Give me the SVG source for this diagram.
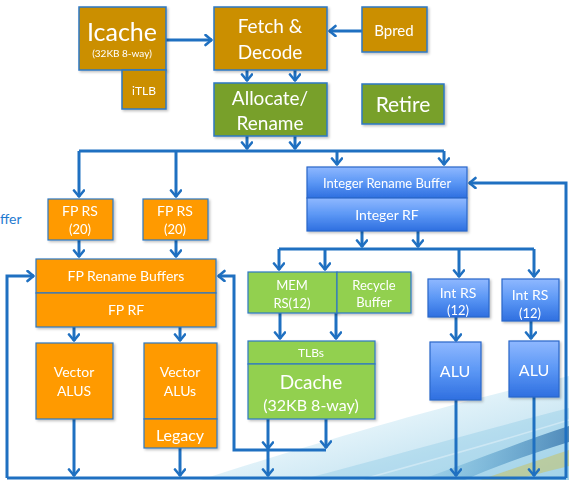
<svg xmlns="http://www.w3.org/2000/svg" width="569" height="480" viewBox="0 0 569 480">
  <defs>
    <marker id="arr" markerUnits="userSpaceOnUse" markerWidth="14" markerHeight="14" refX="8" refY="6" orient="auto">
      <path d="M1.5,1 L7.5,6 L1.5,11" fill="none" stroke="#1f70c1" stroke-width="2.6" stroke-linecap="round" stroke-linejoin="round"/>
    </marker>
    <linearGradient id="blueBox" x1="0" y1="0" x2="0" y2="1">
      <stop offset="0" stop-color="#8fb8ff"/>
      <stop offset="0.5" stop-color="#5b97f5"/>
      <stop offset="1" stop-color="#2f6fe0"/>
    </linearGradient>
    <linearGradient id="haze" x1="0" y1="0" x2="1" y2="1">
      <stop offset="0" stop-color="#e6f4fb" stop-opacity="0"/>
      <stop offset="0.5" stop-color="#bfe3f2"/>
      <stop offset="1" stop-color="#5fb1d8"/>
    </linearGradient>
    <linearGradient id="band" x1="0" y1="0" x2="1" y2="0">
      <stop offset="0" stop-color="#3d9fd0" stop-opacity="0.2"/>
      <stop offset="1" stop-color="#1d5f9e"/>
    </linearGradient>
    <filter id="sh" x="-10%" y="-10%" width="130%" height="130%">
      <feDropShadow dx="1.5" dy="1.5" stdDeviation="1" flood-color="#000" flood-opacity="0.25"/>
    </filter>
  </defs>
  <style>
    text { font-family: Lato, "Open Sans", "Liberation Sans", sans-serif; fill: #ffffff; text-anchor: middle; }
    .gold { fill: #cb8f04; stroke: #2d78c4; stroke-width: 1.5; }
    .olive { fill: #78a02a; stroke: #2d78c4; stroke-width: 1.5; }
    .orange { fill: #ff9a00; stroke: #2d78c4; stroke-width: 1.2; }
    .lgreen { fill: #92d050; stroke: #2d78c4; stroke-width: 1.2; }
    .blue { fill: url(#blueBox); stroke: #2a66c9; stroke-width: 1.2; }
    .box { filter: url(#sh); }
    .wire { fill: none; stroke: #1f70c1; stroke-width: 3; }
    .arrow { marker-end: url(#arr); }
  </style>

  <rect width="569" height="480" fill="#ffffff"/>

  <!-- decorative swoosh in the lower right corner -->
  <g id="backdrop">
    <path d="M200,480 C300,448 430,408 569,376 V480 Z" fill="url(#haze)" opacity="0.5"/>
    <path d="M300,480 C400,454 490,428 569,408 V480 Z" fill="#8fcbe6" opacity="0.4"/>
    <path d="M420,480 C470,462 520,442 569,426 L569,442 C525,456 490,468 465,480 Z" fill="url(#band)" opacity="0.65"/>
    <path d="M480,480 C515,468 545,458 569,450 V466 C545,472 525,477 515,480 Z" fill="#c9c25a" opacity="0.5"/>
    <path d="M360,480 C440,458 510,438 569,420" fill="none" stroke="#ffffff" stroke-width="1.5" opacity="0.35"/>
  </g>

  <!-- cut-off label at the left edge -->
  <text x="0" y="224" style="fill:#1f7bd0;text-anchor:start;font-size:14px">ffer</text>

  <g id="connectors">
    <path class="wire arrow" d="M166,40 H212"/>
    <path class="wire arrow" d="M362,31 H329"/>
    <path class="wire arrow" d="M247,70 V81"/>
    <path class="wire arrow" d="M295,70 V81"/>
    <path class="wire arrow" d="M247,136 V149"/>
    <path class="wire arrow" d="M295,136 V149"/>
    <path class="wire" d="M79,151 H444"/>
    <path class="wire arrow" d="M79,151 V197"/>
    <path class="wire arrow" d="M176,151 V197"/>
    <path class="wire arrow" d="M337,151 V165"/>
    <path class="wire arrow" d="M444,151 V165"/>
    <path class="wire arrow" d="M79,240 V257"/>
    <path class="wire arrow" d="M176,240 V257"/>
    <path class="wire arrow" d="M74,327 V341"/>
    <path class="wire arrow" d="M180,327 V341"/>
    <path class="wire arrow" d="M74,419 V476"/>
    <path class="wire arrow" d="M180,448 V476"/>
    <path class="wire arrow" d="M7,478 V276 H34"/>
    <path class="wire" d="M7,478 H566"/>
    <path class="wire arrow" d="M566,478 V183 H469"/>
    <path class="wire arrow" d="M362,231 V247"/>
    <path class="wire arrow" d="M418,231 V247"/>
    <path class="wire" d="M279,249 H534"/>
    <path class="wire arrow" d="M279,249 V270"/>
    <path class="wire arrow" d="M325,249 V270"/>
    <path class="wire arrow" d="M459,249 V277"/>
    <path class="wire arrow" d="M534,249 V277"/>
    <path class="wire arrow" d="M280,313 V339"/>
    <path class="wire arrow" d="M336,313 V339"/>
    <path class="wire arrow" d="M456,317 V341"/>
    <path class="wire arrow" d="M531,321 V339"/>
    <path class="wire arrow" d="M456,400 V476"/>
    <path class="wire arrow" d="M534,397 V476"/>
    <path class="wire arrow" d="M268,419 V449"/>
    <path class="wire arrow" d="M268,449 V476"/>
    <path class="wire arrow" d="M326,419 V448"/>
    <path class="wire arrow" d="M326,450 H234 V276 H218"/>
  </g>

  <g id="icache" class="box">
    <rect class="gold" x="79" y="7" width="87" height="63"/>
    <text x="122" y="41" style="font-size:25px">Icache</text>
    <text x="122" y="57" style="font-size:10px">(32KB 8-way)</text>
  </g>
  <g id="itlb" class="box">
    <rect class="gold" x="122" y="70" width="44" height="39"/>
    <text x="144" y="95" style="font-size:12px">iTLB</text>
  </g>
  <g id="fetch-decode" class="box">
    <rect class="gold" x="214" y="7" width="113" height="63"/>
    <text x="270" y="33" style="font-size:19px">Fetch &amp;</text>
    <text x="270" y="59" style="font-size:19px">Decode</text>
  </g>
  <g id="bpred" class="box">
    <rect class="gold" x="362" y="7" width="65" height="45"/>
    <text x="394" y="36" style="font-size:15px">Bpred</text>
  </g>
  <g id="allocate-rename" class="box">
    <rect class="olive" x="214" y="83" width="113" height="53"/>
    <text x="270" y="105" style="font-size:19px">Allocate/</text>
    <text x="270" y="130" style="font-size:19px">Rename</text>
  </g>
  <g id="retire" class="box">
    <rect class="olive" x="362" y="84" width="82" height="40"/>
    <text x="403" y="112" style="font-size:21px">Retire</text>
  </g>

  <g id="int-rename" class="box">
    <rect class="blue" x="307" y="167" width="160" height="31"/>
    <rect class="blue" x="307" y="198" width="160" height="33"/>
    <text x="387" y="188" style="font-size:13px">Integer Rename Buffer</text>
    <text x="387" y="220" style="font-size:14px">Integer RF</text>
  </g>

  <g id="fp-rs-1" class="box">
    <rect class="orange" x="48" y="199" width="65" height="41"/>
    <text x="80" y="216" style="font-size:14px">FP RS</text>
    <text x="80" y="234" style="font-size:13px">(20)</text>
  </g>
  <g id="fp-rs-2" class="box">
    <rect class="orange" x="143" y="199" width="65" height="41"/>
    <text x="175" y="216" style="font-size:14px">FP RS</text>
    <text x="175" y="234" style="font-size:13px">(20)</text>
  </g>
  <g id="fp-rename" class="box">
    <rect class="orange" x="36" y="259" width="180" height="34"/>
    <rect class="orange" x="36" y="293" width="180" height="34"/>
    <text x="126" y="281" style="font-size:14px">FP Rename Buffers</text>
    <text x="126" y="315" style="font-size:14px">FP RF</text>
  </g>
  <g id="vector-alus-1" class="box">
    <rect class="orange" x="36" y="343" width="77" height="76"/>
    <text x="74" y="377" style="font-size:14px">Vector</text>
    <text x="74" y="396" style="font-size:14px">ALUS</text>
  </g>
  <g id="vector-alus-2" class="box">
    <rect class="orange" x="144" y="343" width="73" height="76"/>
    <rect class="orange" x="144" y="419" width="73" height="29"/>
    <text x="180" y="377" style="font-size:14px">Vector</text>
    <text x="180" y="396" style="font-size:14px">ALUs</text>
    <text x="180" y="441" style="font-size:16px">Legacy</text>
  </g>

  <g id="mem-rs" class="box">
    <rect class="lgreen" x="248" y="272" width="89" height="41"/>
    <text x="292" y="290" style="font-size:13px">MEM</text>
    <text x="292" y="308" style="font-size:13px">RS(12)</text>
  </g>
  <g id="recycle-buffer" class="box">
    <rect class="lgreen" x="337" y="272" width="74" height="41"/>
    <text x="374" y="290" style="font-size:13px">Recycle</text>
    <text x="374" y="307" style="font-size:13px">Buffer</text>
  </g>
  <g id="dcache" class="box">
    <rect class="lgreen" x="248" y="341" width="127" height="23"/>
    <rect class="lgreen" x="248" y="364" width="127" height="55"/>
    <text x="311" y="357" style="font-size:12px">TLBs</text>
    <text x="311" y="389" style="font-size:19px">Dcache</text>
    <text x="311" y="411" style="font-size:16px">(32KB 8-way)</text>
  </g>

  <g id="int-rs-1" class="box">
    <rect class="blue" x="428" y="279" width="61" height="38"/>
    <text x="458" y="298" style="font-size:14px">Int RS</text>
    <text x="458" y="315" style="font-size:13px">(12)</text>
  </g>
  <g id="int-rs-2" class="box">
    <rect class="blue" x="502" y="279" width="57" height="42"/>
    <text x="530" y="300" style="font-size:14px">Int RS</text>
    <text x="530" y="318" style="font-size:13px">(12)</text>
  </g>
  <g id="alu-1" class="box">
    <rect class="blue" x="430" y="342" width="51" height="58"/>
    <text x="455" y="377" style="font-size:16px">ALU</text>
  </g>
  <g id="alu-2" class="box">
    <rect class="blue" x="509" y="341" width="50" height="56"/>
    <text x="534" y="376" style="font-size:16px">ALU</text>
  </g>
</svg>
